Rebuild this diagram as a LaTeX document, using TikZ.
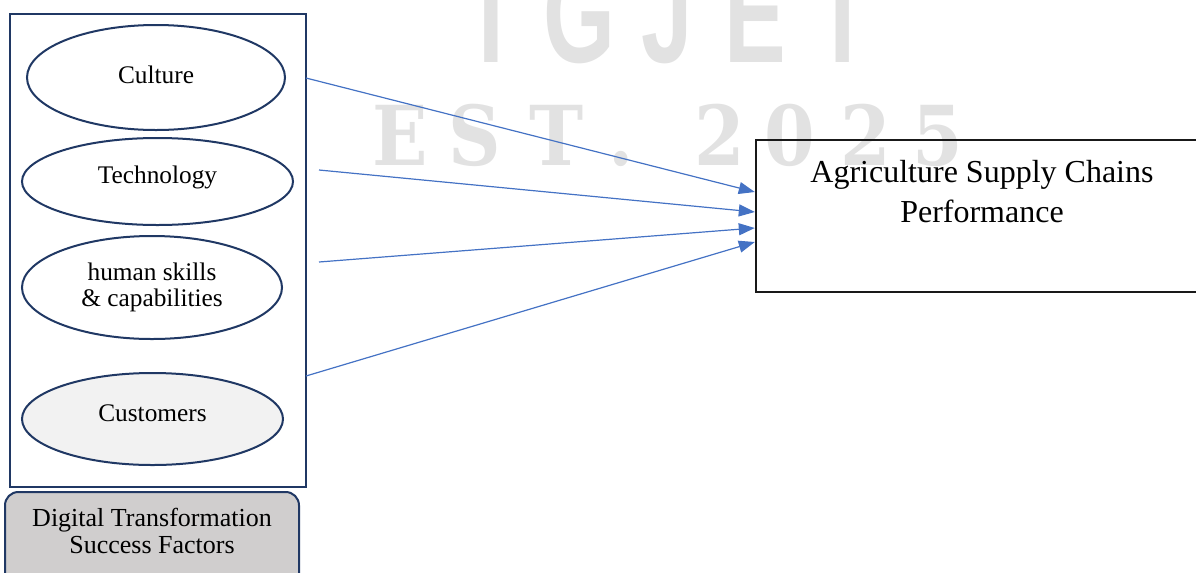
\documentclass[tikz,border=0pt]{standalone}
\usepackage{graphicx}
\usepackage{fontspec}
\setmainfont{Liberation Serif}
\newfontfamily\wmsans{Liberation Sans}
\newfontfamily\wmserif{DejaVu Serif}
\usetikzlibrary{shapes.geometric,arrows.meta,calc}
\definecolor{navy}{RGB}{32,56,100}
\definecolor{linkblue}{RGB}{68,114,196}
\definecolor{softgray}{RGB}{242,242,242}
\definecolor{tagfill}{RGB}{208,206,206}
\definecolor{wmgray}{RGB}{226,226,226}

\begin{document}
\begin{tikzpicture}[x=0.75pt,y=-0.75pt,
  factor/.style={ellipse, draw=navy, line width=1.5pt, inner sep=0pt,
    align=center, font=\fontsize{19}{19.5}\selectfont},
  link/.style={draw=linkblue, line width=0.9pt,
    -{Triangle[length=12pt,width=9pt]}},
  wmtop/.style={text=wmgray, anchor=base, inner sep=0pt,
    font=\wmsans\bfseries\fontsize{105}{105}\selectfont},
  wmbot/.style={text=wmgray, anchor=base, inner sep=0pt,
    font=\wmserif\bfseries\fontsize{62}{62}\selectfont}]

\clip (0,0) rectangle (1196,572);

% faint journal watermark
\foreach \ch/\cx [count=\k] in {I/491,G/579,J/667,E/755,T/843}
  \node[wmtop] (wmt\k) at (\cx,62) {\scalebox{0.66}[1]{\ch}};
\foreach \ch/\cx [count=\k] in {E/400,S/475,T/557,./621,2/720,0/790,2/866,5/938}
  \node[wmbot] (wmb\k) at (\cx,165) {\scalebox{0.88}[1]{\ch}};

% frame holding the success factors
\node[draw=navy, line width=1.5pt, minimum width=222pt, minimum height=354.75pt,
  inner sep=0pt] (frame) at (158,250.5) {};

\node[factor, text depth=4.5pt, minimum width=193.5pt, minimum height=78.75pt]
  (culture) at (156,77.5) {Culture};
\node[factor, text depth=10pt, minimum width=203.25pt, minimum height=65.25pt]
  (tech) at (157.5,181.5) {Technology};
\node[factor, minimum width=195pt, minimum height=77.25pt]
  (skills) at (152,287.5) {human skills\\\& capabilities};
\node[factor, text depth=9pt, fill=softgray, minimum width=195.75pt, minimum height=69pt]
  (cust) at (152.5,419) {Customers};

% caption tab under the frame, running off the lower edge
\node[draw=navy, line width=1.5pt, fill=tagfill, rounded corners=10pt,
  minimum width=220.5pt, minimum height=73.5pt, inner sep=0pt, align=center,
  text depth=15pt, font=\fontsize{19.5}{20.25}\selectfont] (tag) at (152,541)
  {Digital Transformation\\Success Factors};

% outcome box
\node[draw=black!90, line width=1.8pt, minimum width=340.5pt, minimum height=114pt,
  inner sep=0pt] (perf) at (983,216) {};
\node[align=center, inner sep=0pt, font=\fontsize{24}{30}\selectfont] (perftext)
  at (982,192) {Agriculture Supply Chains\\Performance};

% connectors
\coordinate (s1) at (306,78);
\coordinate (s2) at (319,170);
\coordinate (s3) at (319,262);
\coordinate (s4) at (306,376);
\coordinate (e1) at ([yshift=18pt]perf.west);
\coordinate (e2) at ([yshift=3pt]perf.west);
\coordinate (e3) at ([yshift=-9pt]perf.west);
\coordinate (e4) at ([yshift=-19.5pt]perf.west);

\draw[link] (s1) -- (e1);
\draw[link] (s2) -- (e2);
\draw[link] (s3) -- (e3);
\draw[link] (s4) -- (e4);
\end{tikzpicture}
\end{document}
